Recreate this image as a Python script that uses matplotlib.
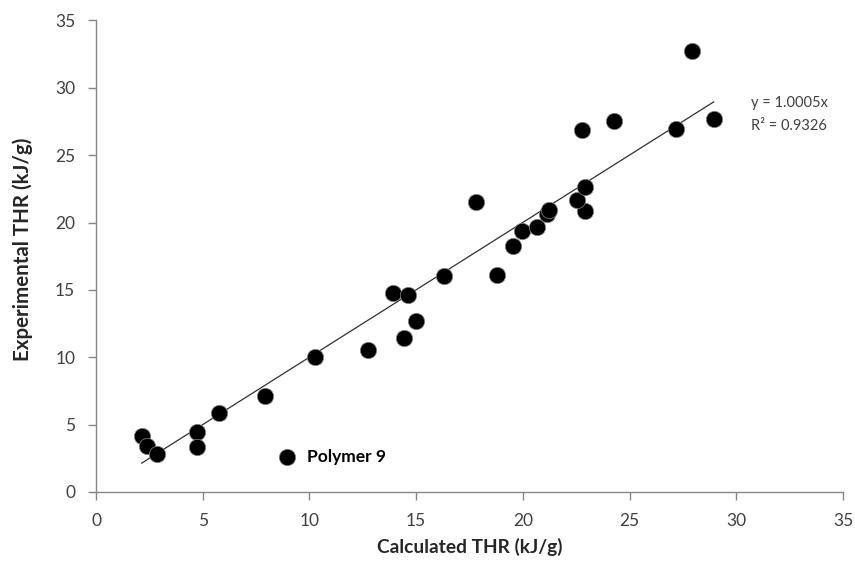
import matplotlib
matplotlib.use("Agg")
import matplotlib.pyplot as plt
import numpy as np

plt.rcParams['font.family'] = ['Lato', 'DejaVu Sans']

# calculated vs experimental THR (kJ/g)
calc_thr = [2.14, 2.41, 2.87, 4.72, 4.72, 5.75, 7.92, 10.28, 12.72, 14.41,
            15.0, 13.91, 14.64, 16.31, 18.78, 19.56, 19.96, 20.66, 21.13, 21.24,
            22.89, 22.54, 22.89, 17.81, 22.77, 24.25, 27.16, 28.94, 27.93]
exp_thr = [4.18, 3.44, 2.80, 4.48, 3.36, 5.89, 7.13, 10.0, 10.54, 11.41,
           12.72, 14.80, 14.63, 16.04, 16.11, 18.29, 19.40, 19.70, 20.62, 20.93,
           20.86, 21.68, 22.62, 21.53, 26.87, 27.54, 26.93, 27.67, 32.74]

outlier_x = 8.97
outlier_y = 2.62
outlier_label = "Polymer 9"

slope = 1.0005
r2 = 0.9326

axis_col = '#868686'
tick_col = '#404040'
label_col = '#262626'

fig = plt.figure(figsize=(8.55, 5.62), dpi=100)
ax = fig.add_axes([0.1123, 0.1246, 0.8737, 0.839])

ax.plot(calc_thr, exp_thr, 'o', ms=11.8, color='black', mec='#8a8a8a', mew=0.5, zorder=3)
ax.plot([outlier_x], [outlier_y], 'o', ms=11.8, color='black', mec='#8a8a8a', mew=0.5, zorder=3)
ax.annotate(outlier_label, (outlier_x, outlier_y), xytext=(14, 0), textcoords='offset points',
            va='center', ha='left', fontsize=12.5, fontweight='bold', color='black')

# linear trend through origin
xl = np.array([min(calc_thr), max(calc_thr)])
ax.plot(xl, slope * xl, color='#303030', lw=0.9, zorder=2)

ax.text(0.877, 0.824, "y = %.4fx" % slope, transform=ax.transAxes,
        fontsize=10.5, color=tick_col, va='center')
ax.text(0.877, 0.776, "R² = %.4f" % r2, transform=ax.transAxes,
        fontsize=10.5, color=tick_col, va='center')

ax.set_xlim(0, 35)
ax.set_ylim(0, 35)
ax.set_xticks(range(0, 36, 5))
ax.set_yticks(range(0, 36, 5))

for s in ['top', 'right']:
    ax.spines[s].set_visible(False)
for s in ['left', 'bottom']:
    ax.spines[s].set_color(axis_col)
    ax.spines[s].set_linewidth(1.0)

ax.tick_params(axis='both', direction='out', length=6, width=1, color=axis_col,
               labelsize=12.5, labelcolor=tick_col)
ax.tick_params(axis='y', pad=9)
ax.tick_params(axis='x', pad=9)

ax.set_xlabel("Calculated THR (kJ/g)", fontsize=13.8, fontweight='bold', color=label_col)
ax.set_ylabel("Experimental THR (kJ/g)", fontsize=14.8, fontweight='bold', color=label_col)
ax.xaxis.set_label_coords(0.5007, -0.097)
ax.yaxis.set_label_coords(-0.0843, 0.515)

fig.savefig("out.png", dpi=100)
